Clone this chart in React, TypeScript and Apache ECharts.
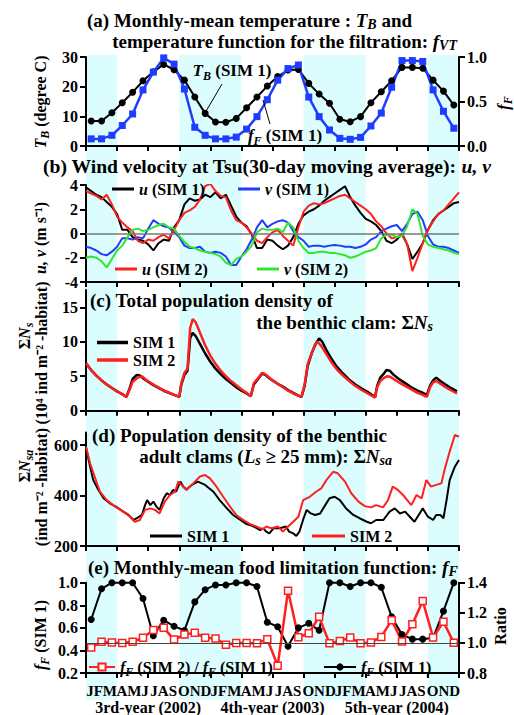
import React, { useEffect, useRef } from 'react';
import * as echarts from 'echarts';

const FF = 'Liberation Serif';

// Monthly values, Jan 2002 .. Dec 2004 (36 months)
const tempTB = [8.4, 8.4, 11.2, 14.6, 18.1, 22.0, 25.0, 27.5, 25.7, 22.2, 16.5, 11.0,
  8.1, 8.0, 9.3, 12.9, 16.5, 20.2, 23.4, 25.6, 25.8, 21.1, 17.5, 14.4,
  9.0, 8.2, 9.9, 14.6, 18.3, 22.0, 26.5, 26.5, 26.2, 22.2, 18.5, 13.8];
const tempFF = [0.08, 0.08, 0.12, 0.23, 0.36, 0.63, 0.83, 0.99, 0.92, 0.64, 0.21, 0.12,
  0.08, 0.08, 0.10, 0.19, 0.33, 0.52, 0.74, 0.87, 0.91, 0.55, 0.33, 0.18,
  0.086, 0.075, 0.097, 0.225, 0.37, 0.66, 0.96, 0.96, 0.95, 0.63, 0.39, 0.20];
const foodFF = [0.674, 0.946, 1.0, 1.0, 1.0, 0.86, 0.53, 0.668, 0.614, 0.577, 0.83, 0.938,
  0.98, 0.98, 1.0, 1.0, 0.966, 0.65, 0.61, 0.437, 0.6, 0.64, 0.578, 1.0,
  1.0, 0.966, 1.0, 1.0, 0.96, 0.697, 0.54, 0.5, 0.5, 0.512, 0.748, 1.0];
const foodRatio = [0.97, 1.007, 1.002, 1.0, 1.007, 1.034, 1.085, 1.1, 1.022, 1.055, 1.068, 1.034,
  1.03, 0.988, 1.0, 1.0, 0.998, 1.025, 0.848, 1.347, 1.037, 1.064, 1.173, 0.997,
  1.013, 1.036, 0.997, 1.003, 1.04, 1.151, 1.01, 1.124, 1.279, 1.036, 1.14, 1.001];

// Wind (30-day moving average), sampled every half month from month 0 to 36
const uSim1 = [3.8, 3.5, 3.2, 3.0, 2.6, 2.2, 1.6, 0.3, 0.3, -0.3, -0.5, -0.6, -0.9, -1.4, -0.8, -0.5, -0.6, 0.5,
  1.1, 2.4, 2.9, 2.7, 2.8, 3.2, 3.0, 3.4, 2.9, 3.2, 2.3, 1.4, 0.9, 0.6, -0.1, -1.2, -1.2, -0.5,
  -0.6, -1.0, -1.3, -1.0, -0.3, 0.8, 1.5, 1.8, 2.0, 2.3, 2.7, 3.0, 3.3, 3.6, 3.9, 3.0, 2.3, 1.7,
  1.2, 1.0, 0.7, 0.2, -0.6, -0.8, -0.5, 0.0, -0.9, -2.1, -1.5, -0.8, 0.3, 1.1, 1.6, 1.9, 2.2, 2.5, 2.6];
const vSim1 = [-1.1, -1.2, -1.4, -1.7, -1.8, -1.5, -1.1, -0.4, -0.4, -0.5, -0.3, -0.4, 0.4, 1.1, 0.8, 0.6, 0.5, 0.1,
  -0.3, -1.0, -1.2, -1.2, -1.1, -1.5, -1.6, -1.5, -1.6, -1.9, -2.6, -2.6, -1.9, -1.3, -0.5, 0.5, 1.1, 0.5,
  0.8, 1.0, 1.1, 0.9, 0.2, -0.3, -0.6, -1.1, -1.0, -1.0, -1.1, -1.0, -0.95, -1.0, -1.1, -1.1, -1.2, -1.1,
  -0.9, -0.5, -0.3, 0.2, 0.4, 0.6, 0.7, 0.2, 0.8, 1.6, 1.8, 1.1, -0.2, -0.9, -1.1, -1.1, -1.2, -1.4, -1.6];
const uSim2 = [3.5, 3.3, 3.1, 2.8, 3.2, 2.4, 1.4, 0.9, 0.5, 0.2, -0.6, -0.8, -0.5, -0.6, -0.3, -0.1, -0.4, 0.3,
  1.1, 1.7, 1.9, 2.2, 2.8, 3.9, 4.1, 3.5, 3.1, 3.0, 1.9, 1.1, 0.9, 0.5, 0.0, -0.6, -0.8, -0.3,
  0.1, 0.3, -0.2, -0.6, -1.0, 0.5, 1.8, 2.3, 2.5, 2.4, 2.5, 2.7, 2.9, 3.1, 3.2, 2.9, 2.6, 2.3,
  2.0, 1.6, 1.0, 0.6, 0.0, -0.4, -0.3, -0.1, -0.9, -3.1, -2.0, -0.8, 0.3, 1.0, 1.6, 1.9, 2.4, 2.9, 3.4];
const vSim2 = [-2.0, -1.9, -2.0, -2.3, -2.8, -2.1, -1.4, -1.0, -0.3, 0.3, 0.4, 0.2, 0.3, 0.5, 0.7, 0.8, 0.5, 0.4,
  -0.2, -0.7, -1.1, -1.2, -1.4, -1.5, -1.6, -1.7, -1.9, -2.4, -2.6, -2.1, -1.9, -1.5, -1.0, 0.1, 0.4, 0.3,
  0.3, 0.4, 0.1, 0.9, 0.5, -0.6, -1.2, -1.6, -1.6, -1.5, -1.5, -1.6, -1.6, -1.7, -1.8, -2.0, -1.9, -1.7,
  -1.5, -1.4, -1.2, -0.4, -0.1, -0.1, -0.3, -0.2, 0.6, 2.0, 1.6, -0.2, -0.9, -1.1, -1.2, -1.3, -1.4, -1.6, -1.7];

// Total population density [month, 10^4 ind m^-2]
const nsSim1: [number, number][] = [[0, 6.9], [0.5, 5.9], [1, 5.1], [1.5, 4.4], [2, 3.8], [2.5, 3.3], [3, 2.8], [3.5, 2.4], [3.9, 2.0],
  [4.2, 3.2], [4.5, 4.6], [4.9, 5.2], [5.2, 5.1], [5.6, 4.6], [6, 4.2], [6.5, 3.7], [7, 3.3], [7.5, 2.9], [8, 2.6], [8.5, 2.3], [9.0, 2.0],
  [9.2, 3.8], [9.5, 5.2], [9.8, 5.8], [10.05, 10.5], [10.3, 11.3], [10.6, 10.8], [11, 9.7], [11.5, 8.3], [12, 7.1], [12.5, 6.1], [13, 5.3],
  [13.5, 4.6], [14, 4.0], [14.5, 3.4], [15, 2.9], [15.5, 2.5], [15.9, 2.1], [16.2, 3.8], [16.6, 4.6], [17.0, 5.4], [17.3, 5.2], [17.7, 4.7],
  [18, 4.4], [18.5, 3.9], [19, 3.5], [19.5, 3.0], [20, 2.6], [20.5, 2.2], [20.8, 2.0], [21.1, 3.6], [21.4, 6.5], [21.8, 8.4], [22.2, 9.8],
  [22.5, 10.5], [22.8, 10.0], [23.2, 8.8], [23.7, 7.5], [24.2, 6.4], [24.8, 5.4], [25.4, 4.5], [26, 3.8], [26.6, 3.2], [27.2, 2.7], [27.9, 2.0],
  [28.1, 3.6], [28.4, 4.8], [28.7, 5.3], [29.0, 5.9], [29.3, 5.8], [29.7, 5.2], [30.2, 4.6], [30.8, 4.0], [31.4, 3.4], [32, 2.9], [32.5, 2.6],
  [32.9, 2.3], [33.2, 3.6], [33.5, 4.4], [33.8, 4.8], [34.2, 4.3], [34.7, 3.8], [35.2, 3.3], [35.8, 2.8]];
const nsSim2: [number, number][] = [[0, 6.9], [0.5, 5.9], [1, 5.1], [1.5, 4.4], [2, 3.8], [2.5, 3.3], [3, 2.8], [3.5, 2.4], [3.9, 2.0],
  [4.2, 3.0], [4.5, 4.2], [5.0, 4.8], [5.4, 5.0], [5.8, 4.5], [6.2, 4.1], [6.7, 3.6], [7.2, 3.2], [7.7, 2.8], [8.2, 2.5], [8.7, 2.2], [9.0, 2.0],
  [9.2, 4.0], [9.5, 5.5], [9.8, 6.1], [10.05, 12.0], [10.3, 13.3], [10.6, 12.8], [11, 11.3], [11.5, 9.5], [12, 8.0], [12.5, 6.8], [13, 5.8],
  [13.5, 5.0], [14, 4.3], [14.5, 3.7], [15, 3.1], [15.5, 2.6], [15.9, 2.1], [16.2, 4.0], [16.6, 4.7], [17.0, 5.5], [17.3, 5.3], [17.7, 4.8],
  [18, 4.4], [18.5, 3.9], [19, 3.4], [19.5, 2.9], [20, 2.5], [20.5, 2.2], [20.8, 2.0], [21.1, 3.8], [21.4, 6.8], [21.8, 8.4], [22.1, 9.6],
  [22.35, 10.0], [22.7, 9.4], [23.2, 8.2], [23.7, 7.0], [24.2, 6.0], [24.8, 5.1], [25.4, 4.3], [26, 3.6], [26.6, 3.0], [27.2, 2.5], [27.9, 1.9],
  [28.1, 3.4], [28.4, 4.3], [28.8, 4.8], [29.1, 5.0], [29.4, 4.9], [29.8, 4.5], [30.2, 4.1], [30.8, 3.6], [31.4, 3.1], [32, 2.6], [32.5, 2.3],
  [32.9, 2.0], [33.2, 3.4], [33.5, 4.1], [33.8, 4.3], [34.2, 3.9], [34.7, 3.4], [35.2, 3.0], [35.8, 2.5]];

// Adult clam density [month, ind m^-2]
const nsaSim1: [number, number][] = [[0.0, 590], [0.4, 514], [0.7, 461], [1.2, 422], [1.7, 389], [2.3, 369], [3.0, 353], [3.6, 336], [4.1, 323],
  [4.6, 303], [4.9, 310], [5.4, 323], [5.7, 362], [5.9, 382], [6.2, 362], [6.5, 376], [6.8, 356], [7.1, 343], [7.5, 389], [7.8, 409], [8.1, 402],
  [8.4, 422], [8.7, 415], [9.1, 455], [9.4, 435], [9.7, 424], [10.2, 442], [10.8, 455], [11.5, 442], [12.3, 415], [12.9, 382], [13.6, 349],
  [14.2, 323], [14.9, 303], [15.5, 287], [16.1, 279], [16.8, 263], [17.1, 270], [17.4, 257], [17.7, 250], [18.1, 270], [18.7, 270], [19.3, 277],
  [19.6, 257], [20.0, 250], [20.3, 240], [20.6, 257], [21.0, 310], [21.3, 343], [21.7, 329], [22.1, 323], [22.6, 329], [23.0, 356], [23.5, 389],
  [24.0, 395], [24.5, 382], [25.1, 349], [25.8, 323], [26.4, 310], [27.1, 296], [27.5, 290], [28.0, 303], [28.7, 303], [29.3, 336], [29.8, 349],
  [30.3, 329], [30.8, 336], [31.25, 316], [31.7, 296], [32.2, 329], [32.5, 349], [33.0, 316], [33.5, 303], [33.8, 323], [34.2, 323], [34.5, 310],
  [34.8, 382], [35.1, 461], [35.6, 514], [36.0, 541]];
const nsaSim2: [number, number][] = [[0.0, 593], [0.4, 527], [1.0, 455], [1.35, 415], [2.0, 382], [2.8, 356], [3.6, 336], [4.25, 316], [4.7, 296],
  [5.2, 303], [5.7, 343], [6.2, 349], [6.65, 343], [7.1, 329], [7.6, 376], [8.1, 402], [8.6, 415], [8.9, 455], [9.2, 442], [9.7, 422], [10.35, 448],
  [11.0, 475], [11.5, 481], [11.96, 468], [12.6, 435], [13.24, 395], [13.9, 356], [14.5, 323], [15.2, 303], [15.8, 287], [16.46, 277], [17.1, 266],
  [17.4, 277], [17.9, 270], [18.55, 277], [19.0, 257], [19.5, 277], [20.0, 296], [20.5, 316], [20.96, 382], [21.6, 395], [22.2, 415], [22.7, 428],
  [23.2, 461], [23.85, 494], [24.3, 488], [25.0, 455], [25.6, 409], [26.3, 376], [26.9, 358], [27.5, 353], [28.0, 362], [28.67, 353], [29.15, 382],
  [29.6, 435], [30.1, 422], [30.6, 402], [31.0, 382], [31.4, 362], [31.9, 402], [32.4, 389], [32.85, 461], [33.3, 435], [33.8, 442], [34.3, 448],
  [34.6, 501], [35.1, 574], [35.6, 640], [36.0, 633]];

const quarterNames = ['JFM', 'AMJ', 'JAS', 'OND'];
const quarterLabels = [...quarterNames, ...quarterNames, ...quarterNames];
const yearLabels = ['3rd-year (2002)', '4th-year (2003)', '5th-year (2004)'];
const winterBands: [number, number][] = [[0, 3], [9, 15], [21, 27], [33, 36]];

const tbTicks = [0, 10, 20, 30];
const ffTicks = [0, 0.5, 1.0];
const windTicks = [-4, -2, 0, 2, 4];
const nsTicks = [0, 5, 10, 15];
const nsaTicks = [200, 400, 600];
const foodTicks = [0.2, 0.4, 0.6, 0.8, 1.0];
const ratioTicks = [0.8, 1.0, 1.2, 1.4];

const BLUE = '#1f3dff';
const RED = '#ff1f1f';
const GREEN = '#2ee62e';
const CYAN = '#dcfdfd';

function rich(size: number, lh: number) {
  return {
    i: { fontFamily: FF, fontWeight: 'bold', fontStyle: 'italic', fontSize: size, lineHeight: lh },
    s: { fontFamily: FF, fontWeight: 'bold', fontStyle: 'italic', fontSize: Math.round(size * 0.72), lineHeight: lh, verticalAlign: 'bottom' },
  };
}

function txt(text: string, x: number, y: number, size: number, align = 'left', rot = 0, lhExtra = 6) {
  const lh = size + lhExtra;
  return {
    type: 'text', x, y, z: 10, rotation: rot,
    style: {
      text, fontFamily: FF, fontWeight: 'bold', fontSize: size, lineHeight: lh, fill: '#000',
      align, verticalAlign: 'middle', rich: rich(size, lh),
    },
  };
}

const title = (text: string, x: number, y: number, align = 'left', size = 19) => txt(text, x, y, size, align, 0, 3);

const legendNames: Record<string, string> = {
  uSim1: '{i|u} (SIM 1)', vSim1: '{i|v} (SIM 1)', uSim2: '{i|u} (SIM 2)', vSim2: '{i|v} (SIM 2)',
  NsSim1: 'SIM 1', NsSim2: 'SIM 2', NsaSim1: 'SIM 1', NsaSim2: 'SIM 2',
  ratio: '{i|f}{s|F} (SIM 2) / {i|f}{s|F} (SIM 1)', fFSim1: '{i|f}{s|F} (SIM 1)',
};

function leg(name: string, left: number, top: number, w: number, h: number, icon?: string) {
  const o: any = {
    data: [name], left, top, padding: 0, itemWidth: w, itemHeight: h, selectedMode: false,
    formatter: (n: string) => legendNames[n],
    textStyle: { fontFamily: FF, fontWeight: 'bold', fontSize: 16, color: '#000', rich: rich(16, 22) },
  };
  if (icon) o.icon = icon;
  return o;
}

const axisCommon = {
  axisLine: { onZero: false, lineStyle: { color: '#000', width: 2 } },
  axisTick: { length: 5, lineStyle: { color: '#000', width: 2 } },
  splitLine: { show: false },
  z: 3,
};

function xAx(grid: number) {
  return { gridIndex: grid, type: 'value', min: 0, max: 36, interval: 3, ...axisCommon, axisLabel: { show: false } };
}

function yAx(grid: number, ticks: number[], min: number, max: number, dec: number, pos = 'left') {
  return {
    gridIndex: grid, type: 'value', position: pos, min, max, ...axisCommon,
    axisTick: { ...axisCommon.axisTick, length: 6, customValues: ticks },
    axisLabel: {
      customValues: ticks, margin: 8, fontFamily: FF, fontWeight: 'bold', fontSize: 16, color: '#000',
      formatter: (v: number) => v.toFixed(dec),
    },
  };
}

const monthly = (arr: number[]) => arr.map((v, i) => [i + 0.5, v]);
const halfMonthly = (arr: number[]) => arr.map((v, i) => [i * 0.5, v]);

function lineS(name: string, xi: number, yi: number, data: any[], color: string, width: number, extra: any = {}) {
  return {
    name, type: 'line', xAxisIndex: xi, yAxisIndex: yi, data, symbol: 'none', z: 3,
    lineStyle: { color, width }, itemStyle: { color }, ...extra,
  };
}

export default function App() {
  const ref = useRef<HTMLDivElement>(null);
  useEffect(() => {
    if (!ref.current) return;
    const chart = echarts.init(ref.current, undefined, { renderer: 'svg' });
    const option: any = {
      animation: false,
      backgroundColor: '#fff',
      grid: [
        { left: 86, right: 55, top: 55, bottom: 15 },
        { left: 86, right: 55, top: 57, height: 89 },
        { left: 86, right: 55, top: 185, height: 97 },
        { left: 86, right: 55, top: 290.1, height: 120.6 },
        { left: 86, right: 55, top: 432.4, height: 113.6 },
        { left: 86, right: 55, top: 582.7, height: 94 },
      ],
      xAxis: [
        { gridIndex: 0, type: 'value', min: 0, max: 36, show: false },
        xAx(1), xAx(2), xAx(3), xAx(4), xAx(5),
        {
          gridIndex: 5, type: 'category', data: quarterLabels, boundaryGap: true, position: 'bottom',
          axisLine: { show: false }, axisTick: { show: false }, z: 3,
          axisLabel: { interval: 0, margin: 10, fontFamily: FF, fontWeight: 'bold', fontSize: 15, color: '#000' },
        },
        {
          gridIndex: 5, type: 'category', data: yearLabels, boundaryGap: true, position: 'bottom',
          axisLine: { show: false }, axisTick: { show: false }, z: 3,
          axisLabel: { interval: 0, margin: 26, fontFamily: FF, fontWeight: 'bold', fontSize: 16, color: '#000' },
        },
      ],
      yAxis: [
        { gridIndex: 0, type: 'value', min: 0, max: 1, show: false },
        yAx(1, tbTicks, 0, 30, 0),
        yAx(1, ffTicks, 0, 1, 1, 'right'),
        yAx(2, windTicks, -4, 4, 0),
        yAx(3, nsTicks, 0, 17.5, 0),
        yAx(4, nsaTicks, 200, 650, 0),
        yAx(5, foodTicks, 0.2, 1.0, 1),
        yAx(5, ratioTicks, 0.8, 1.4, 1, 'right'),
      ],
      legend: [
        leg('uSim1', 112, 181, 22, 3, 'rect'), leg('vSim1', 238, 181, 22, 3, 'rect'),
        leg('uSim2', 115, 261, 22, 3, 'rect'), leg('vSim2', 257, 261, 22, 3, 'rect'),
        leg('NsSim1', 97, 334.5, 31, 3.5, 'rect'), leg('NsSim2', 97, 352, 31, 3.5, 'rect'),
        leg('NsaSim1', 150, 528, 32, 3, 'rect'), leg('NsaSim2', 312, 528, 33, 3, 'rect'),
        leg('ratio', 88, 659, 26, 9), leg('fFSim1', 323, 659, 32, 9),
      ],
      series: [
        {
          name: 'bands', type: 'line', xAxisIndex: 0, yAxisIndex: 0, data: [[0, 0], [36, 0]],
          symbol: 'none', lineStyle: { opacity: 0 }, z: 1, silent: true,
          markArea: {
            silent: true, z: 1, itemStyle: { color: CYAN },
            data: winterBands.map(([a, b]) => [{ xAxis: a }, { xAxis: b }]),
          },
        },
        lineS('TB', 1, 1, monthly(tempTB), '#000', 2, { symbol: 'circle', symbolSize: 7, clip: false }),
        lineS('fF', 1, 2, monthly(tempFF), BLUE, 2.5, { symbol: 'rect', symbolSize: 7, clip: false }),
        lineS('uSim1', 2, 3, halfMonthly(uSim1), '#000', 2, {
          markLine: {
            silent: true, symbol: 'none', label: { show: false },
            lineStyle: { color: '#777', width: 1.5, type: 'solid' }, data: [{ yAxis: 0 }],
          },
        }),
        lineS('vSim1', 2, 3, halfMonthly(vSim1), BLUE, 2),
        lineS('uSim2', 2, 3, halfMonthly(uSim2), RED, 2),
        lineS('vSim2', 2, 3, halfMonthly(vSim2), GREEN, 2),
        lineS('NsSim1', 3, 4, nsSim1, '#000', 2.5),
        lineS('NsSim2', 3, 4, nsSim2, RED, 2.5),
        lineS('NsaSim1', 4, 5, nsaSim1, '#000', 2),
        lineS('NsaSim2', 4, 5, nsaSim2, RED, 2),
        lineS('fFSim1', 5, 6, monthly(foodFF), '#000', 2, { symbol: 'circle', symbolSize: 7, clip: false }),
        lineS('ratio', 5, 7, monthly(foodRatio), RED, 2.5, {
          symbol: 'rect', symbolSize: 7, clip: false,
          itemStyle: { color: '#fff', borderColor: RED, borderWidth: 1.5 },
          markLine: {
            silent: true, symbol: 'none', label: { show: false },
            lineStyle: { color: '#444', width: 1, type: 'solid' }, data: [{ yAxis: 1 }],
          },
        }),
      ],
      graphic: [
        title('(a) Monthly-mean temperature : {i|T}{s|B} and', 87, 20),
        title('temperature function for the filtration: {i|f}{s|VT}', 457, 41, 'right'),
        title('(b) Wind velocity at Tsu(30-day moving average): {i|u, v}', 43, 166, 'left', 19.6),
        title('(c) Total population density of', 90, 300),
        title('the benthic clam: Σ{i|N}{s|s}', 433, 322, 'right'),
        title('(d) Population density of the benthic', 92, 435),
        title('adult clams ({i|L}{s|s} ≥ 25 mm): Σ{i|N}{s|sa}', 392, 456, 'right'),
        title('(e) Monthly-mean food limitation function: {i|f}{s|F}', 88, 567),
        txt('{i|T}{s|B} (degree C)', 40, 102, 16, 'center', Math.PI / 2),
        txt('{i|f}{s|F}', 503, 103, 16, 'center', Math.PI / 2),
        txt('{i|u, v} (m s⁻¹)', 40, 238, 16, 'center', Math.PI / 2),
        txt('Σ{i|N}{s|s}', 24, 336, 16, 'center', Math.PI / 2),
        txt('(10⁴ ind m⁻² -habitat)', 41, 353, 16, 'center', Math.PI / 2),
        txt('Σ{i|N}{s|sa}', 24, 466, 16, 'center', Math.PI / 2),
        txt('(ind m⁻² -habitat)', 41, 487, 16, 'center', Math.PI / 2),
        txt('{i|f}{s|F} (SIM 1)', 40, 635, 16, 'center', Math.PI / 2),
        txt('Ratio', 500, 626, 16, 'center', Math.PI / 2),
        txt('{i|T}{s|B} (SIM 1)', 232, 70, 17, 'center'),
        txt('{i|f}{s|F} (SIM 1)', 285, 135, 17, 'center'),
        { type: 'line', z: 10, shape: { x1: 222, y1: 84, x2: 205, y2: 113 }, style: { stroke: '#000', lineWidth: 1 } },
        { type: 'line', z: 10, shape: { x1: 270, y1: 124, x2: 263, y2: 100 }, style: { stroke: '#000', lineWidth: 1 } },
      ],
    };
    chart.setOption(option);
    return () => chart.dispose();
  }, []);
  return <div ref={ref} style={{ position: 'absolute', left: 0, top: 0, width: 514, height: 715 }} />;
}
